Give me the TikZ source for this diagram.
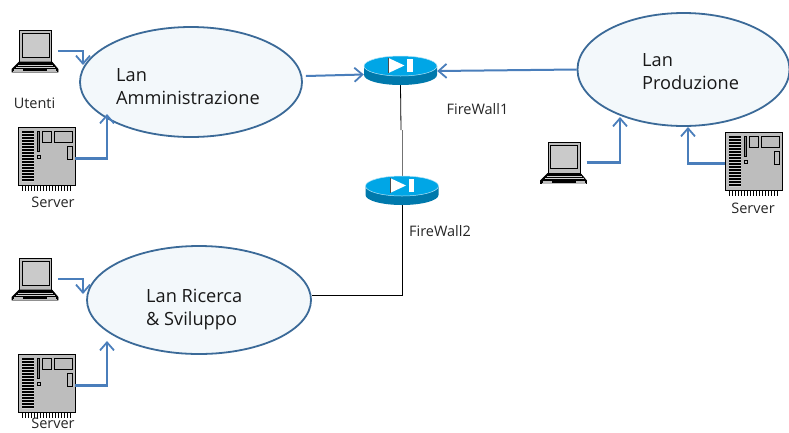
\documentclass[tikz,border=0pt]{standalone}
\usepackage{fontspec}
\setmainfont{Open Sans}
\usetikzlibrary{shapes.geometric,arrows.meta}
\definecolor{lanfill}{HTML}{F3F8FB}
\definecolor{lanline}{HTML}{3B6A98}
\definecolor{conn}{HTML}{4A7EBB}
\definecolor{rtop}{HTML}{00A6E6}
\definecolor{rside}{HTML}{0079AC}
\definecolor{devgray}{HTML}{BDBDBD}
\tikzset{
  lan/.style={ellipse,draw=lanline,line width=1.8pt,fill=lanfill,inner sep=0pt},
  conn/.style={draw=conn,line width=2.8pt,-{Straight Barb[length=8pt,width=14pt,line width=1.8pt]}},
  plainconn/.style={draw=black,line width=0.8pt},
  lantext/.style={font=\fontsize{18.2}{23}\selectfont,align=left,anchor=north west,inner sep=0pt,text=black!90},
  small/.style={font=\fontsize{14.5}{16}\selectfont,text=black!85,inner sep=0pt},
  device/.style={inner sep=0pt,minimum width=#1},
  laptopbox/.style={device=46pt,minimum height=42pt},
  serverbox/.style={device=57pt,minimum height=64pt},
  routerbox/.style={device=73pt,minimum height=29pt},
  laptop/.pic={
    \fill[black] (-16,-21) rectangle (17,12);
    \fill[devgray] (-15,-20) rectangle (16,10.5);
    \draw[black,line width=.7pt,fill=devgray!80] (-13,-17.5) rectangle (14,6);
    \draw[black,line width=.6pt,fill=black] (-16,11) -- (17,11) -- (23,18) -- (23,21) -- (-23,21) -- (-23,18) -- cycle;
    \fill[devgray] (-21,18) rectangle (-12,20);
    \fill[devgray] (12,18) rectangle (21,20);
    \fill[devgray] (-22,20) rectangle (22,20.6);
    \draw[devgray!70,line width=.4pt] (-17,14) -- (18,14) (-19,16) -- (20,16);
  },
  server/.pic={
    \fill[black] (-25.5,26) rectangle (26.5,32);
    \foreach \i in {-25,-23.5,...,26}{\draw[white,line width=.4pt] (\i,27) -- (\i,32);}
    \draw[black,line width=1pt,fill=devgray] (-28.5,-31.5) rectangle (28.5,26.5);
    \fill[black] (-25,-27.5) rectangle (-12.5,23);
    \foreach \i in {-26,-23,...,22}{\fill[devgray!70] (-24.5,\i) rectangle (-13,\i+1.7);}
    \draw[black,line width=.7pt,fill=black!50] (-9.5,-27.5) rectangle (-7.5,-7);
    \draw[black,line width=.7pt] (-9.5,-3.5) rectangle (-6.5,-.5);
    \draw[black,line width=.7pt] (-4.5,-27.5) rectangle (4.5,-16);
    \draw[black,line width=.7pt] (7.5,-27.5) rectangle (25.5,-16);
    \draw[black,line width=.7pt] (20.5,-12.5) rectangle (25.5,.5);
  },
  router/.pic={
    \fill[rside] (-36.5,-4.5) -- (-36.5,4.5) arc[start angle=180,end angle=0,x radius=36.5,y radius=10] -- (36.5,-4.5) -- cycle;
    \fill[rtop,draw=white!70!rtop,line width=.5pt] (0,-4.5) ellipse[x radius=36.5,y radius=10];
    \fill[white] (-12,-12.5) -- (-12,2.5) -- (4,-5) -- cycle;
    \draw[black!70,line width=.7pt] (-12,-12.5) -- (-12,2.5);
    \fill[white] (6.5,-12) rectangle (12,1);
  }
}
\begin{document}
\begin{tikzpicture}[x=1pt,y=-1pt]
\useasboundingbox (0,0) rectangle (789,432);
\fill[white] (0,0) rectangle (789,432);

% free ends of the arrows, on the ellipses
\coordinate (a1) at (83,65);
\coordinate (a2) at (107,114);
\coordinate (r1) at (83,294);
\coordinate (r2) at (107,341);
\coordinate (p1) at (620,117);
\coordinate (p2) at (688,127);

\node[lan,minimum width=222pt,minimum height=110pt] (adm) at (191,82) {};
\node[lan,minimum width=224pt,minimum height=108pt] (ric) at (199,300) {};
\node[lan,minimum width=212pt,minimum height=113pt] (pro) at (683.5,69.5) {};

\node[laptopbox] (lap1) at (35,51) {}; \pic at (lap1) {laptop};
\node[laptopbox] (lap2) at (35,279) {}; \pic at (lap2) {laptop};
\node[laptopbox] (lap3) at (563.5,162.5) {}; \pic at (lap3) {laptop};
\node[serverbox] (srv1) at (46.5,158.5) {}; \pic at (srv1) {server};
\node[serverbox] (srv2) at (46.5,385.5) {}; \pic at (srv2) {server};
\node[serverbox] (srv3) at (753.5,163.5) {}; \pic at (srv3) {server};
\node[routerbox] (fw1) at (400.5,70.5) {};
\node[routerbox] (fw2) at (402,190.5) {};

% plain lines between firewalls and to the R&D LAN
\coordinate (mid1) at (401,130);
\coordinate (mid2) at (402,130);
\coordinate (elbow) at (402,295);
\draw[plainconn] (fw1.south) -- (mid1);
\draw[draw=black!55,line width=.9pt] (mid2) -- (fw2.north);
\draw[plainconn] (fw2.south) -- (elbow) -- ([yshift=5pt]ric.east);

\pic at (fw1) {router};
\pic at (fw2) {router};

% blue arrows
\draw[conn] (lap1.east) -| (a1);
\draw[conn] (srv1.east) -| (a2);
\draw[conn] (lap2.east) -| (r1);
\draw[conn] (srv2.east) -| (r2);
\draw[conn] (lap3.east) -| (p1);
\draw[conn] (srv3.west) -| (p2);
\draw[conn,line width=2pt] ([shift={(3pt,6pt)}]adm.east) -- ([yshift=-4pt]fw1.west);
\draw[conn,line width=2pt] (pro.west) -- ([yshift=-0.5pt]fw1.east);

\node[lantext] (tadm) at (116,68) {Lan\\Amministrazione};
\node[lantext] (tric) at (146,289) {Lan Ricerca\\\& Sviluppo};
\node[lantext] (tpro) at (642,53) {Lan\\Produzione};
\node[small] (uten) at (34.5,103) {Utenti};
\node[small] (s1) at (53,202) {Server};
\node[small] (s2) at (53,423.5) {Server};
\node[small] (s3) at (753,208) {Server};
\node[small] (l1) at (477.5,109) {FireWall1};
\node[small] (l2) at (440,231) {FireWall2};
\end{tikzpicture}
\end{document}
